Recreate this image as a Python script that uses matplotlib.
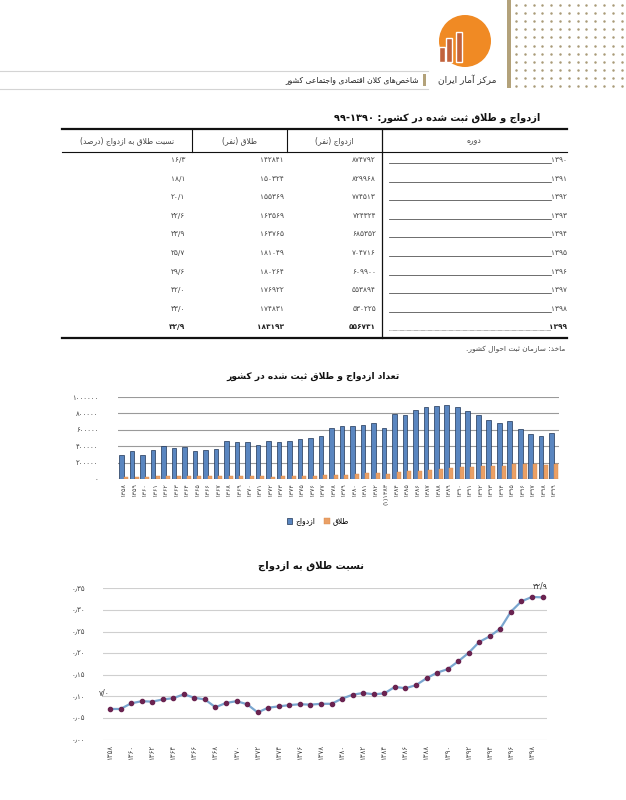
import re
import numpy as np
import matplotlib
matplotlib.use("Agg")
import matplotlib.pyplot as plt
from matplotlib.patches import Circle, Rectangle

plt.rcParams['font.family'] = ['DejaVu Sans']

# ---- data ----
years = list(range(1358, 1400))
marriage = [294000, 339000, 294000, 359000, 408000, 380000, 396000, 339000, 351000, 367000,
            465000, 453000, 453000, 420000, 465000, 453000, 465000, 486000, 506000, 527000,
            616000, 645000, 645000, 657000, 686000, 616000, 796000, 784000, 845000, 873000,
            886000, 898000,
            874792, 829968, 774513, 724324, 685352, 704716, 609900, 553894, 530225, 556731]
divorce = [21000, 24000, 25000, 32000, 36000, 35000, 38000, 36000, 34000, 34000,
           35000, 38000, 40000, 35000, 29000, 33000, 36000, 39000, 41000, 43000,
           51000, 54000, 61000, 68000, 74000, 65000, 85000, 96000, 100000, 110000,
           125000, 139000,
           142841, 150324, 155369, 163569, 163765, 181049, 180264, 176922, 174831, 183193]
ratio = [0.071, 0.071, 0.084, 0.089, 0.088, 0.093, 0.096, 0.105, 0.097, 0.093,
         0.075, 0.085, 0.089, 0.082, 0.063, 0.074, 0.077, 0.080, 0.082, 0.081,
         0.083, 0.083, 0.095, 0.104, 0.108, 0.105, 0.107, 0.122, 0.119, 0.126,
         0.142, 0.155,
         0.163, 0.181, 0.201, 0.226, 0.239, 0.257, 0.296, 0.320, 0.330, 0.329]

table_years = [1390, 1391, 1392, 1393, 1394, 1395, 1396, 1397, 1398, 1399]
table_marriage = [874792, 829968, 774513, 724324, 685352, 704716, 609900, 553894, 530225, 556731]
table_divorce = [142841, 150324, 155369, 163569, 163765, 181049, 180264, 176922, 174831, 183193]
table_ratio = ["16/3", "18/1", "20/1", "22/6", "23/9", "25/7", "29/6", "32/0", "33/0", "32/9"]

bar_yticks = [0, 200000, 400000, 600000, 800000, 1000000]
line_yticks = [0, 0.05, 0.10, 0.15, 0.20, 0.25, 0.30, 0.35]

# ---- persian text helpers ----
PD = str.maketrans("0123456789", "۰۱۲۳۴۵۶۷۸۹")

def pn(x):
    return str(x).translate(PD)

def _dual(b):
    return (chr(b), chr(b + 1), chr(b + 2), chr(b + 3))

def _right(b):
    return (chr(b), chr(b + 1), None, None)

FORMS = {
    'ا': _right(0xFE8D), 'آ': _right(0xFE81), 'ب': _dual(0xFE8F), 'پ': _dual(0xFB56),
    'ت': _dual(0xFE95), 'ث': _dual(0xFE99), 'ج': _dual(0xFE9D), 'چ': _dual(0xFB7A),
    'ح': _dual(0xFEA1), 'خ': _dual(0xFEA5), 'د': _right(0xFEA9), 'ذ': _right(0xFEAB),
    'ر': _right(0xFEAD), 'ز': _right(0xFEAF), 'ژ': _right(0xFB8A), 'س': _dual(0xFEB1),
    'ش': _dual(0xFEB5), 'ص': _dual(0xFEB9), 'ض': _dual(0xFEBD), 'ط': _dual(0xFEC1),
    'ظ': _dual(0xFEC5), 'ع': _dual(0xFEC9), 'غ': _dual(0xFECD), 'ف': _dual(0xFED1),
    'ق': _dual(0xFED5), 'ک': _dual(0xFB8E), 'گ': _dual(0xFB92), 'ل': _dual(0xFEDD),
    'م': _dual(0xFEE1), 'ن': _dual(0xFEE5), 'و': _right(0xFEED), 'ه': _dual(0xFEE9),
    'ی': _dual(0xFBFC),
}
LAMALEF = {'ا': ('\uFEFB', '\uFEFC'), 'آ': ('\uFEF5', '\uFEF6')}


def shape(s):
    out = []
    i, n = 0, len(s)
    while i < n:
        c = s[i]
        if c not in FORMS:
            if c != '\u200c':
                out.append(c)
            i += 1
            continue
        prev = s[i - 1] if i > 0 else None
        jp = prev in FORMS and FORMS[prev][2] is not None
        nxt = s[i + 1] if i + 1 < n else None
        if c == 'ل' and nxt in LAMALEF:
            out.append(LAMALEF[nxt][1 if jp else 0])
            i += 2
            continue
        f = FORMS[c]
        jn = f[2] is not None and nxt in FORMS
        if jp and jn:
            out.append(f[3])
        elif jp:
            out.append(f[1])
        elif jn:
            out.append(f[2])
        else:
            out.append(f[0])
        i += 1
    return ''.join(out)


MIRROR = {'(': ')', ')': '('}


def fa(s):
    # shape letters, then put them in visual (right-to-left) order, numbers kept LTR
    s = shape(s.translate(PD))
    toks = re.findall(r'[۰-۹]+(?:[/٫.][۰-۹]+)*|.', s)
    toks = [MIRROR.get(t, t) for t in toks[::-1]]
    return ''.join(toks)


# ---- figure ----
fig = plt.figure(figsize=(6.26, 8.0), dpi=100)
page = fig.add_axes([0, 0, 1, 1])
page.set_xlim(0, 626)
page.set_ylim(800, 0)
page.axis('off')

# header decoration
dx = np.arange(516, 622, 8.8)
dy = np.arange(5, 90, 8.1)
gx, gy = np.meshgrid(dx, dy)
page.scatter(gx.ravel(), gy.ravel(), s=3.2, color='#a99b78', linewidths=0)
page.add_patch(Rectangle((507, 0), 4, 88, color='#b3a27a', lw=0))
page.add_patch(Circle((465, 41), 26, color='#f08a24', lw=0))
for x0, top in [(439, 47), (446, 38), (456, 32)]:
    page.add_patch(Rectangle((x0, top), 6, 62 - top, facecolor='#c2623b', edgecolor='white', lw=1))
page.text(467, 80, fa("مرکز آمار ایران"), ha='center', va='center', fontsize=6.5,
          color='#333333')
page.plot([0, 428], [71, 71], color='#d4d4d4', lw=0.8)
page.plot([0, 428], [89, 89], color='#d4d4d4', lw=0.8)
page.add_patch(Rectangle((423, 74), 3, 12, color='#b3a27a', lw=0))
page.text(419, 80, fa("شاخص‌های کلان اقتصادی واجتماعی کشور"), ha='right', va='center',
          fontsize=5.5, color='#222222')

# table
page.text(540, 118, fa("ازدواج و طلاق ثبت شده در کشور: 1390-99"), ha='right', va='center',
          fontsize=7, fontweight='bold', color='#111111')
page.plot([62, 567], [129, 129], color='#111111', lw=1.6)
page.plot([62, 567], [152, 152], color='#111111', lw=0.8)
page.plot([62, 567], [338, 338], color='#111111', lw=1.6)
for xs in [192, 287]:
    page.plot([xs, xs], [129, 152], color='#111111', lw=0.8)
page.plot([382, 382], [129, 338], color='#111111', lw=0.9)

heads = [(127, "نسبت طلاق به ازدواج (درصد)"), (239, "طلاق (نفر)"),
         (334, "ازدواج (نفر)"), (474, "دوره")]
for hx, ht in heads:
    page.text(hx, 141, fa(ht), ha='center', va='center', fontsize=5.5, color='#444444')

for k, yr in enumerate(table_years):
    ry = 160 + k * 18.6
    last = k == len(table_years) - 1
    w = 'bold' if last else 'normal'
    col = '#222222' if last else '#444444'
    page.text(376, ry, pn(table_marriage[k]), ha='right', va='center', fontsize=5.3,
              color=col, fontweight=w)
    page.text(284, ry, pn(table_divorce[k]), ha='right', va='center', fontsize=5.3,
              color=col, fontweight=w)
    page.text(185, ry, pn(table_ratio[k]), ha='right', va='center', fontsize=5.3,
              color=col, fontweight=w)
    page.text(567, ry, pn(yr), ha='right', va='center', fontsize=5.3, color=col, fontweight=w)
    page.plot([389, 551], [ry + 3, ry + 3], color='#555555', lw=0.6,
              ls=(0, (0.6, 0.8)) if last else '-')

page.text(565, 349, fa("ماخذ: سازمان ثبت احوال کشور."), ha='right', va='center',
          fontsize=5.3, color='#444444')

# ---- bar chart ----
page.text(313, 376, fa("تعداد ازدواج و طلاق ثبت شده در کشور"), ha='center', va='center',
          fontsize=6.6, fontweight='bold', color='#111111')

ax1 = fig.add_axes([118 / 626, 1 - 479 / 800, 441 / 626, 82 / 800])
ax1.set_facecolor('none')
idx = np.arange(len(years))
ax1.bar(idx - 0.2, marriage, width=0.44, color='#5a86c0', edgecolor='#1f3456', lw=0.5,
        label=fa("ازدواج"), zorder=3)
ax1.bar(idx + 0.22, divorce, width=0.38, color='#eaa066', edgecolor='#d88a4c', lw=0.3,
        label=fa("طلاق"), zorder=3)
ax1.set_xlim(-0.55, 41.5)
ax1.set_ylim(0, 1000000)
ax1.set_yticks(bar_yticks)
ax1.set_yticklabels([pn(v) for v in bar_yticks], fontsize=5, color='#444444')
ax1.grid(axis='y', color='#9a9a9a', lw=0.8, zorder=0)
xl = [pn(y) for y in years]
xl[years.index(1383)] = "(۱)" + pn(1383)
ax1.set_xticks(idx)
ax1.set_xticklabels(xl, rotation=90, fontsize=4.6, color='#444444')
ax1.tick_params(length=0, pad=3)
ax1.tick_params(axis='y', pad=14)
for sp in ax1.spines.values():
    sp.set_visible(False)
ax1.legend(loc='center', bbox_to_anchor=(318 / 626, 1 - 521 / 800),
           bbox_transform=fig.transFigure, ncol=2, frameon=False, fontsize=5.5,
           handlelength=0.7, handleheight=0.7, handletextpad=0.4, columnspacing=1.2)

# ---- line chart ----
page.text(311, 566, fa("نسبت طلاق به ازدواج"), ha='center', va='center',
          fontsize=7.2, fontweight='bold', color='#111111')

ax2 = fig.add_axes([103 / 626, 1 - 739.7 / 800, 444 / 626, 151.4 / 800])
ax2.set_facecolor('none')
ax2.plot(idx, ratio, color='#7aa6cf', lw=1.6, marker='o', markersize=3.0,
         markerfacecolor='#6a2350', markeredgecolor='#6a2350', zorder=3)
ax2.set_xlim(-0.66, 41.42)
ax2.set_ylim(0, 0.35)
ax2.set_yticks(line_yticks)
ax2.set_yticklabels([pn(f"{v:.2f}").replace(".", "٫") for v in line_yticks],
                    fontsize=5, color='#444444')
ax2.grid(axis='y', color='#cfcfcf', lw=0.8, zorder=0)
ax2.set_xticks(idx[::2])
ax2.set_xticklabels([pn(y) for y in years[::2]], rotation=90, fontsize=5, color='#444444')
ax2.tick_params(length=0, pad=4)
ax2.tick_params(axis='y', pad=13)
for sp in ax2.spines.values():
    sp.set_visible(False)
ax2.annotate(pn("7/0"), (0, ratio[0]), xytext=(-4, 8), textcoords='offset points',
             ha='center', va='bottom', fontsize=5.5, color='#333333')
ax2.annotate(pn("32/9"), (41, ratio[-1]), xytext=(-2, 5), textcoords='offset points',
             ha='center', va='bottom', fontsize=5.5, color='#333333')

fig.savefig("out.png", dpi=100)
